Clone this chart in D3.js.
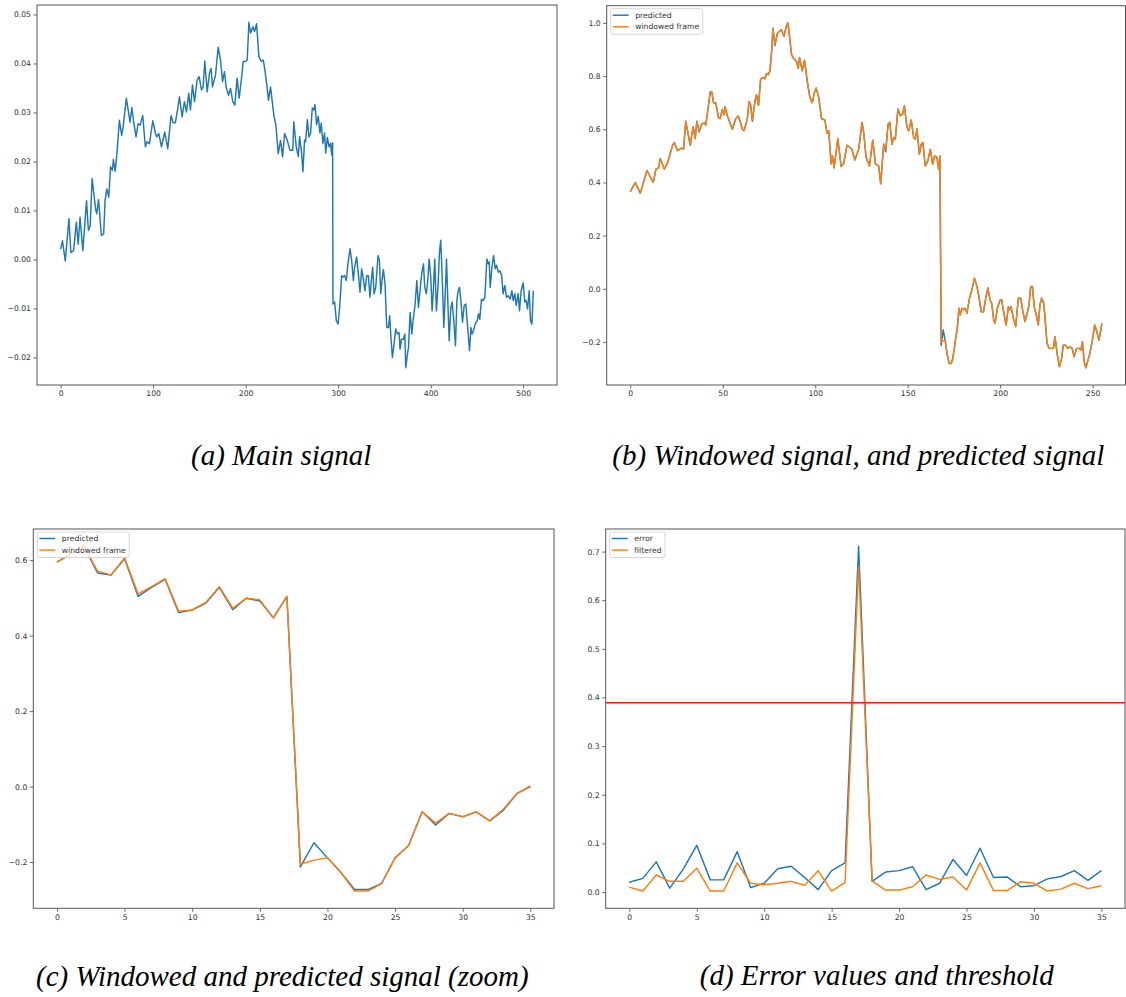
<!DOCTYPE html>
<html>
<head>
<meta charset="utf-8">
<script src="https://cdn.jsdelivr.net/npm/d3@7"></script>
<style>
  body { margin: 0; background: #fff; }
  svg { display: block; }
</style>
</head>
<body>
<script>
// (a) main signal, [index, value] read at the turning points
const mainSignal = [
  [0, .0021], [2, .0038], [5, -.0003], [9, .0083], [11, .0014], [14, .0018], [17, .0076], [19, .0031],
  [21, .0086], [24, .0018], [28, .012], [30, .0059], [32, .0069], [34, .0165], [38, .010], [39, .0093],
  [41, .0122], [44, .0049], [46.5, .0052], [48, .012], [50, .0144], [52, .0127], [54, .0189], [56, .0182],
  [57, .0204], [59, .018], [61, .022], [63.5, .0284], [66, .0253], [67.5, .027], [71, .0329], [73.6, .0298],
  [75, .028], [77, .031], [79, .028], [81.5, .025], [83.7, .0277], [86, .0274], [88.7, .0294], [91.6, .023],
  [93.4, .024], [96, .0236], [99.6, .0283], [102.5, .0257], [104, .025], [106, .0257], [109, .023], [112.5, .026],
  [115.8, .0226], [119.4, .0294], [121.6, .0279], [124, .0279], [126.6, .0308], [128.4, .0332], [131.3, .0291], [133.8, .0322],
  [136, .0301], [138.5, .0339], [140.3, .0305], [142.5, .0356], [144.7, .0322], [147.5, .0366], [149.7, .0373], [152.2, .0346],
  [154, .0352], [155.8, .0405], [158.4, .0342], [160.9, .038], [162.7, .039], [164.1, .0352], [167.4, .0376], [170.3, .0433],
  [172.8, .0407], [175, .0363], [177.1, .0383], [178.9, .0352], [181.5, .0335], [183.6, .0349], [186.1, .0322], [188.3, .0315],
  [190.8, .037], [193, .0329], [195.9, .0376], [197.3, .0404], [199.9, .0404], [201.7, .0407], [203.5, .0484], [205.3, .0462],
  [207.8, .0475], [209.6, .0465], [211.8, .0481], [214.3, .0414], [216.8, .0404], [219, .0407], [220.8, .0387], [223.3, .0349],
  [224.7, .0325], [226.9, .0352], [230.5, .0294], [232.7, .0274], [235.2, .0216], [237.7, .0243], [239.9, .0209], [242.1, .0257],
  [245, .0243], [247.8, .0223], [251, .0223], [252, .0281], [254.7, .023], [256.9, .021], [258.3, .0251], [260.5, .0217],
  [261.9, .0179], [263.7, .0244], [264.8, .024], [266.7, .0285], [268.4, .025], [270.2, .0258], [272, .0309], [273.8, .0305],
  [274.9, .0316], [276.7, .0275], [278.5, .0292], [280.3, .0258], [281.7, .0278], [283.5, .0237], [285.3, .0258], [286.5, .0217],
  [288.3, .0249], [290.1, .023], [291.9, .0237], [293, .0213], [294, .0238], [294.4, -.0091], [296.2, -.0087], [298, -.0125],
  [299.9, -.0132], [301.6, -.0098], [303.8, -.0033], [305.2, -.0036], [307, -.0033], [308.8, -.0043], [310.6, -.0009], [312.8, .0022],
  [314.6, -.0002], [316.4, -.0043], [317.8, -.0016], [320, .0005], [321.8, -.0029], [323.6, -.0067], [325.4, -.0019], [327.2, -.004],
  [329, -.0064], [330.8, -.0033], [332.6, -.0033], [334.4, -.0077], [336.2, -.0036], [337.3, -.0016], [338.8, -.007], [340.6, -.0057],
  [343.1, .0008], [344.6, -.0002], [346, -.007], [347.8, -.0036], [348.9, -.0021], [350.7, -.005], [352.5, -.0139], [354.3, -.0139],
  [355.7, -.0115], [356.8, -.0152], [358.6, -.02], [360.4, -.0173], [362.2, -.0142], [364, -.0152], [365.8, -.0149], [366.9, -.0183],
  [368.4, -.0163], [370.5, -.0163], [372, -.0152], [373.1, -.0221], [374.9, -.0193], [376, -.018], [377.8, -.0108], [379.6, -.0152],
  [381, -.0125], [383.2, -.0091], [385, -.0043], [386.8, -.0098], [388.5, -.0064], [390.3, -.0029], [392.2, -.0009], [393.6, -.0057],
  [395.4, -.007], [396.8, -.0043], [398.3, .0001], [400.1, -.0036], [401.5, -.0105], [402.9, -.0064], [404.4, .0001], [406.2, -.0105],
  [408, -.0053], [409.4, .0012], [410.9, .0039], [412.7, -.005], [414.2, -.0139], [416, -.0057], [417.1, .0001], [418.9, -.0105],
  [420, -.0166], [421.8, -.0098], [423.2, -.0087], [425, -.0125], [426.8, -.0176], [428.3, -.0084], [429.7, -.0064], [431.2, -.0057],
  [432.6, -.0084], [434.4, -.0128], [436.2, -.0094], [438, -.0091], [439.4, -.0125], [442, -.0186], [443.5, -.0139], [444.8, -.0152],
  [446.3, -.0145], [448.1, -.0132], [450.3, -.0125], [451.7, -.0111], [453.1, -.0122], [454.9, -.0081], [456.8, -.0084], [458.6, -.0077],
  [460.7, .0001], [462.2, -.0009], [463.3, -.0005], [464.3, -.0057], [466.2, -.0016], [468, .0008], [469.8, -.0019], [471.2, -.0012],
  [473.1, -.0026], [474.8, -.0023], [476.7, -.0033], [478.3, -.007], [480.2, -.0053], [482, -.0077], [483.8, -.0074], [485.9, -.0081],
  [487.8, -.0064], [489.2, -.0084], [491, -.007], [492.4, -.0094], [494.6, -.007], [496, -.0105], [497.8, -.0064], [500, -.0048],
  [501.8, -.0087], [503.2, -.0084], [504.7, -.0101], [506.5, -.0064], [507.9, -.0125], [509.4, -.0132], [511, -.0064]
];

// (b) windowed frame and prediction (same sample positions)
const frameIdx = [
  0, 2.7, 5.4, 6.7, 9, 12.4, 13.9, 15.3, 16.2, 18.4, 20.2, 22.9, 23.8, 25.5, 27.9, 28.8, 30, 32.4, 34, 35.1,
  36, 37.2, 38.7, 40.3, 40.8, 41.7, 43.2, 44.1, 45, 46.2, 47.7, 48.6, 49.8, 50.7, 51.3, 52.5, 55.2, 57, 58.3, 59.4,
  60.6, 61.5, 63.3, 64.2, 65.1, 66, 67.3, 68.2, 69.3, 70.5, 71.9, 72.8, 73.7, 74.6, 75.5, 76.4, 77.1, 78.2, 79.5, 80.8,
  81.6, 83.1, 84.5, 85.2, 86.1, 87.2, 88.5, 89.9, 90.8, 91.5, 93, 94.2, 95.7, 97.1, 98.4, 99.6, 100.5, 101.9, 103.4, 105.2,
  106.4, 107.3, 108.6, 109.3, 110.2, 112.2, 114, 115.3, 117.2, 119.9, 121.4, 123.5, 125.3, 126.2, 127.5, 129.3, 131.1, 132.6, 134.3, 135.4,
  137, 138.1, 139.4, 140.3, 141.5, 142.4, 143.3, 144.7, 146, 147.3, 148.2, 149.6, 150.5, 151.9, 153.2, 154.1, 155, 156.3, 157.3, 158.2,
  159.5, 160.9, 162.2, 163.5, 164.5, 165.8, 166.7, 167.4, 168.1, 169.2, 170.2, 171.4, 172.5, 173.5, 174.4, 175.7, 176.9, 177.7, 178.4, 179.3,
  180.2, 181.1, 182, 183.4, 184.7, 186.1, 187.4, 188.8, 189.7, 191, 192.2, 193.3, 194.5, 195.4, 196.5, 197.2, 198.5, 199.9, 200.8, 202.3,
  203.2, 204.4, 205, 205.9, 207.1, 208.4, 209.8, 211.1, 212.1, 213.4, 214.6, 215.6, 216.5, 217.4, 218.4, 219.7, 220.6, 221.5, 222.4, 223.5,
  224.2, 225.3, 226.4, 227.8, 228.8, 229.6, 230.9, 232, 233.2, 234.1, 235.3, 236.4, 237.7, 238.9, 240, 241.3, 242.7, 243.6, 244.5, 245.4,
  246.3, 247.2, 248.5, 249.7, 251.1, 252, 253.4, 254.4, 255
];
const frameWin = [
  .365, .40, .36, .39, .445, .40, .45, .455, .49, .45, .475, .54, .55, .52, .53, .525, .63, .54, .61, .565,
  .63, .595, .62, .625, .615, .66, .74, .74, .70, .70, .645, .64, .675, .655, .685, .65, .60, .64, .65, .63,
  .60, .595, .64, .705, .69, .635, .70, .73, .69, .79, .795, .79, .81, .805, .82, .89, .98, .92, .96, .97,
  .975, .95, .99, 1.0, .95, .88, .865, .855, .83, .87, .82, .86, .78, .72, .70, .74, .755, .72, .64, .635,
  .585, .595, .47, .50, .455, .565, .46, .47, .54, .525, .484, .525, .626, .588, .494, .462, .559, .469, .462, .395,
  .544, .525, .62, .626, .544, .569, .563, .676, .651, .657, .689, .607, .594, .635, .569, .563, .601, .506, .544, .55,
  .462, .481, .525, .469, .50, .494, .45, .50, -.199, -.196, -.193, -.249, -.281, -.281, -.262, -.199, -.142, -.073, -.098, -.073,
  -.079, -.073, -.092, -.035, -.004, .04, .009, -.042, -.086, -.086, -.035, .003, -.042, -.054, -.117, -.13, -.073, -.042, -.042, -.105,
  -.136, -.067, -.079, -.067, -.111, -.142, -.035, -.035, -.079, -.123, -.092, -.06, .009, .009, -.067, -.105, -.136, -.06, -.035, -.054,
  -.105, -.205, -.224, -.224, -.224, -.18, -.249, -.293, -.262, -.212, -.212, -.224, -.218, -.224, -.256, -.224, -.224, -.23, -.199, -.275,
  -.297, -.275, -.243, -.199, -.136, -.155, -.193, -.155, -.13
];
const framePred = [
  .365, .40, .36, .39, .445, .40, .45, .455, .49, .45, .475, .54, .55, .52, .53, .525, .63, .54, .61, .565,
  .63, .59, .62, .625, .615, .66, .74, .74, .70, .70, .645, .64, .675, .655, .685, .65, .60, .64, .65, .63,
  .60, .595, .64, .705, .69, .63, .70, .73, .69, .79, .795, .79, .81, .805, .82, .89, .98, .915, .96, .97,
  .975, .95, .99, 1.0, .95, .88, .865, .855, .83, .87, .82, .86, .78, .72, .70, .74, .755, .72, .64, .635,
  .585, .595, .47, .50, .455, .565, .46, .47, .54, .525, .484, .525, .626, .588, .494, .462, .559, .469, .462, .395,
  .544, .515, .62, .626, .544, .569, .563, .676, .651, .657, .689, .607, .594, .635, .569, .563, .601, .506, .544, .55,
  .462, .481, .525, .469, .50, .494, .45, .50, -.212, -.155, -.193, -.249, -.281, -.281, -.262, -.199, -.142, -.073, -.098, -.073,
  -.079, -.073, -.092, -.035, -.004, .04, .009, -.042, -.086, -.086, -.035, .003, -.042, -.054, -.117, -.13, -.073, -.042, -.042, -.105,
  -.136, -.067, -.079, -.067, -.111, -.142, -.035, -.035, -.079, -.123, -.092, -.06, .009, .009, -.067, -.105, -.136, -.06, -.035, -.054,
  -.105, -.205, -.224, -.224, -.224, -.18, -.249, -.293, -.262, -.212, -.212, -.224, -.218, -.224, -.256, -.224, -.224, -.23, -.199, -.275,
  -.297, -.275, -.243, -.199, -.136, -.155, -.193, -.155, -.13
];

// (c) zoom on the anomaly, 36 samples
const zoomWin = [
  .595, .616, .637, .571, .561, .606, .511, .530, .551, .465, .468, .488, .530, .473, .499, .495, .447, .504,
  -.206, -.195, -.189, -.228, -.277, -.277, -.257, -.189, -.156, -.067, -.097, -.071, -.080, -.067, -.091, -.060, -.019, .002
];
const zoomPred = [
  .595, .616, .637, .566, .561, .604, .504, .528, .549, .461, .468, .486, .528, .469, .499, .492, .447, .504,
  -.213, -.149, -.189, -.228, -.273, -.273, -.257, -.189, -.156, -.067, -.102, -.071, -.080, -.067, -.091, -.063, -.019, .0
];

// (d) error and filtered error, threshold
const errorVals = [
  .020, .028, .062, .008, .047, .096, .025, .025, .083, .009, .018, .048, .053, .030, .005, .044, .060, .711,
  .022, .041, .044, .052, .005, .018, .067, .034, .090, .030, .031, .011, .013, .027, .032, .044, .024, .044
];
const filteredVals = [
  .010, .002, .035, .022, .022, .049, .002, .002, .060, .018, .015, .018, .022, .014, .044, .002, .020, .670,
  .023, .004, .004, .011, .035, .026, .031, .004, .060, .003, .003, .021, .018, .002, .006, .018, .007, .013
];
const threshold = 0.389;

const captions = [
  '(a) Main signal',
  '(b) Windowed signal, and predicted signal',
  '(c) Windowed and predicted signal (zoom)',
  '(d) Error values and threshold'
];

const blue = '#1f77b4', orange = '#ff7f0e';
const tickFont = 'DejaVu Sans';

const svg = d3.select('body').append('svg')
    .attr('width', 1126)
    .attr('height', 997);

// matplotlib style autoscale: 5% margin each side
function padded(vals) {
  const [lo, hi] = d3.extent(vals);
  const m = (hi - lo) * 0.05;
  return [lo - m, hi + m];
}

let clipId = 0;

function panel(o) {
  const allX = [].concat(...o.series.map(s => s.data.map(d => d[0])));
  const allY = [].concat(...o.series.map(s => s.data.map(d => d[1])));
  const x = d3.scaleLinear().domain(padded(allX)).range([o.l, o.r]);
  const y = d3.scaleLinear().domain(padded(allY)).range([o.b, o.t]);

  const g = svg.append('g');
  const cid = 'clip' + (clipId++);
  g.append('clipPath').attr('id', cid)
    .append('rect')
    .attr('x', o.l).attr('y', o.t)
    .attr('width', o.r - o.l).attr('height', o.b - o.t);

  const plot = g.append('g').attr('clip-path', `url(#${cid})`);
  const line = d3.line().x(d => x(d[0])).y(d => y(d[1]));

  o.series.forEach(s => {
    plot.append('path')
      .datum(s.data)
      .attr('fill', 'none')
      .attr('stroke', s.color)
      .attr('stroke-width', 1.45)
      .attr('stroke-linejoin', 'round')
      .attr('d', line);
  });

  if (o.hline !== undefined) {
    plot.append('line')
      .attr('x1', o.l).attr('x2', o.r)
      .attr('y1', y(o.hline)).attr('y2', y(o.hline))
      .attr('stroke', '#ee1c1c')
      .attr('stroke-width', 1.45);
  }

  const xa = g.append('g')
    .attr('transform', `translate(0,${o.b})`)
    .call(d3.axisBottom(x).tickValues(o.xTicks).tickSize(3.5).tickPadding(2.5).tickFormat(d3.format('d')));
  const ya = g.append('g')
    .attr('transform', `translate(${o.l},0)`)
    .call(d3.axisLeft(y).tickValues(o.yTicks).tickSize(3.5).tickPadding(2.5).tickFormat(d3.format(o.yFmt)));
  [xa, ya].forEach(a => {
    a.select('.domain').remove();
    a.selectAll('line').attr('stroke', '#444').attr('stroke-width', 0.8);
    a.selectAll('text')
      .attr('font-family', tickFont)
      .attr('font-size', 7.7)
      .attr('fill', '#333');
  });

  g.append('rect')
    .attr('x', o.l).attr('y', o.t)
    .attr('width', o.r - o.l).attr('height', o.b - o.t)
    .attr('fill', 'none')
    .attr('stroke', '#555')
    .attr('stroke-width', 1);

  if (o.legend) {
    const lx = o.l + 4, ly = o.t + 3;
    const lg = g.append('g');
    const box = lg.append('rect')
      .attr('x', lx).attr('y', ly)
      .attr('height', 25.5)
      .attr('rx', 2)
      .attr('fill', '#fff')
      .attr('fill-opacity', 0.8)
      .attr('stroke', '#ccc')
      .attr('stroke-width', 0.8);
    let maxW = 0;
    o.legend.forEach((it, i) => {
      const yy = ly + 6.5 + i * 11.6;
      lg.append('line')
        .attr('x1', lx + 2).attr('x2', lx + 18)
        .attr('y1', yy).attr('y2', yy)
        .attr('stroke', it.color)
        .attr('stroke-width', 1.45);
      const t = lg.append('text')
        .attr('x', lx + 24.5).attr('y', yy)
        .attr('dy', '0.35em')
        .attr('font-family', tickFont)
        .attr('font-size', 7.7)
        .attr('fill', '#333')
        .text(it.label);
      maxW = Math.max(maxW, t.node().getComputedTextLength());
    });
    box.attr('width', 24.5 + maxW + 3.5);
  }
}

const pairs = (xs, ys) => ys.map((v, i) => [xs[i], v]);
const idx36 = d3.range(36);

panel({
  l: 37, r: 557, t: 5, b: 385,
  series: [{ data: mainSignal, color: blue }],
  xTicks: [0, 100, 200, 300, 400, 500],
  yTicks: [-0.02, -0.01, 0, 0.01, 0.02, 0.03, 0.04, 0.05],
  yFmt: '.2f'
});

panel({
  l: 606.7, r: 1125.5, t: 5.7, b: 385,
  series: [
    { data: pairs(frameIdx, framePred), color: blue },
    { data: pairs(frameIdx, frameWin), color: orange }
  ],
  xTicks: [0, 50, 100, 150, 200, 250],
  yTicks: [-0.2, 0, 0.2, 0.4, 0.6, 0.8, 1.0],
  yFmt: '.1f',
  legend: [{ label: 'predicted', color: blue }, { label: 'windowed frame', color: orange }]
});

panel({
  l: 33.3, r: 554, t: 529, b: 908.3,
  series: [
    { data: pairs(idx36, zoomPred), color: blue },
    { data: pairs(idx36, zoomWin), color: orange }
  ],
  xTicks: [0, 5, 10, 15, 20, 25, 30, 35],
  yTicks: [-0.2, 0, 0.2, 0.4, 0.6],
  yFmt: '.1f',
  legend: [{ label: 'predicted', color: blue }, { label: 'windowed frame', color: orange }]
});

panel({
  l: 605.7, r: 1125, t: 529, b: 908.3,
  series: [
    { data: pairs(idx36, errorVals), color: blue },
    { data: pairs(idx36, filteredVals), color: orange }
  ],
  hline: threshold,
  xTicks: [0, 5, 10, 15, 20, 25, 30, 35],
  yTicks: [0, 0.1, 0.2, 0.3, 0.4, 0.5, 0.6, 0.7],
  yFmt: '.1f',
  legend: [{ label: 'error', color: blue }, { label: 'filtered', color: orange }]
});

// captions under each panel
const capPos = [[281.2, 465], [858.3, 465], [282.3, 985.7], [876.7, 985]];
svg.selectAll('text.caption')
  .data(captions)
  .enter()
  .append('text')
  .attr('class', 'caption')
  .attr('x', (d, i) => capPos[i][0])
  .attr('y', (d, i) => capPos[i][1])
  .attr('text-anchor', 'middle')
  .attr('font-family', '"Liberation Serif", "Times New Roman", serif')
  .attr('font-style', 'italic')
  .attr('font-size', 29)
  .attr('fill', '#000')
  .text(d => d);
</script>
</body>
</html>
